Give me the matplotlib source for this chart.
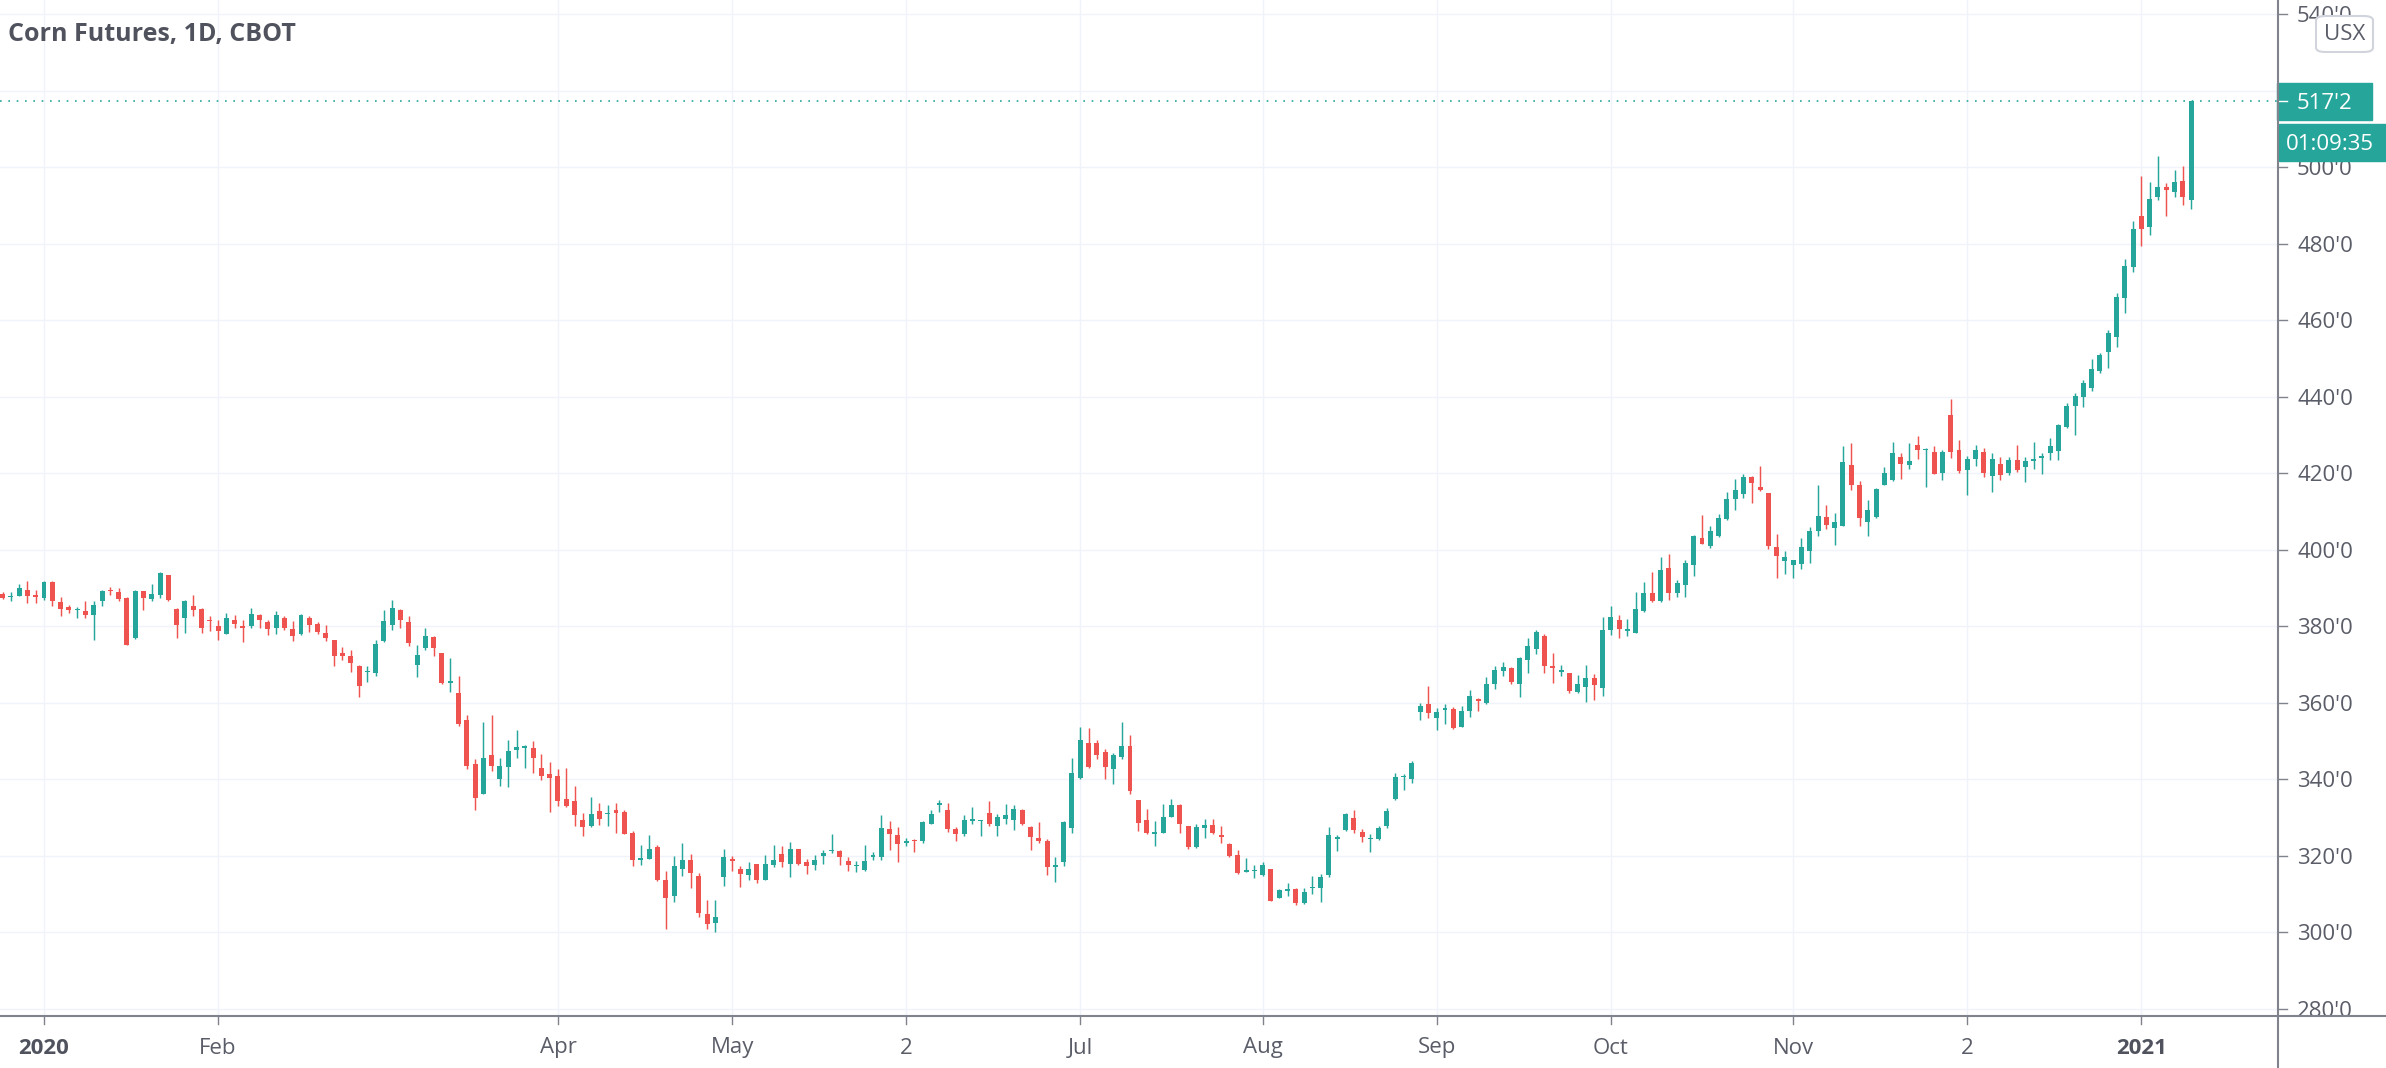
import matplotlib
matplotlib.use('Agg')
import matplotlib.pyplot as plt
from matplotlib.patches import Rectangle, FancyBboxPatch
from matplotlib.lines import Line2D
import numpy as np
import pandas as pd

plt.rcParams['font.family'] = ['Open Sans', 'DejaVu Sans']

W, H = 2386, 1068   # output size in pixels

title = 'Corn Futures, 1D, CBOT'
currency = 'USX'
last_price_text = "517'2"
countdown_text = '01:09:35'

# CBOT trading days shown (Dec 24 2019 .. Jan 12 2021)
holidays = ['2019-12-25', '2020-01-01', '2020-01-20', '2020-02-17', '2020-04-10',
            '2020-05-25', '2020-07-03', '2020-09-07', '2020-11-26', '2020-12-25',
            '2021-01-01']
dates = pd.bdate_range('2019-12-24', '2021-01-12', freq='C', holidays=holidays)

opens = [
    388.5, 387.7, 387.8, 389.4, 388.3, 387.4, 391.7, 386.3, 385.0, 384.2,
    383.9, 383.0, 386.5, 389.6, 388.9, 387.4, 377.0, 389.1, 387.1, 388.3,
    393.3, 384.5, 382.3, 385.4, 384.5, 381.7, 380.2, 378.1, 381.7, 380.2,
    380.0, 383.0, 381.0, 379.6, 382.2, 379.4, 378.1, 382.2, 380.6, 378.3,
    376.3, 373.0, 372.2, 369.7, 368.0, 367.8, 376.1, 380.4, 384.2, 381.0,
    370.0, 374.3, 377.2, 373.0, 365.2, 362.6, 355.5, 344.1, 336.3, 346.5,
    340.2, 343.3, 347.7, 348.2, 348.3, 343.0, 341.5, 341.0, 334.8, 334.3,
    329.5, 327.7, 331.7, 330.9, 332.1, 331.5, 326.0, 318.9, 319.3, 322.3,
    313.8, 309.5, 316.7, 319.0, 314.7, 304.7, 302.5, 314.5, 319.1, 316.7,
    315.0, 317.8, 313.7, 317.6, 320.6, 318.0, 321.7, 318.3, 317.6, 319.9,
    321.2, 321.4, 318.6, 317.3, 316.3, 319.7, 319.7, 327.1, 325.4, 323.5,
    324.1, 323.8, 328.4, 333.2, 332.1, 327.0, 325.7, 329.1, 329.0, 331.3,
    327.7, 329.7, 329.5, 332.0, 327.6, 324.6, 323.9, 317.1, 318.5, 327.4,
    340.4, 349.6, 349.6, 347.1, 342.8, 345.8, 348.7, 334.5, 329.3, 325.8,
    326.1, 330.3, 333.2, 327.8, 322.4, 327.4, 328.0, 325.2, 323.2, 320.2,
    315.9, 316.1, 315.0, 316.5, 309.1, 310.9, 311.3, 307.6, 311.5, 311.5,
    315.0, 324.5, 326.8, 330.0, 326.3, 324.3, 324.5, 327.8, 334.8, 340.6,
    340.0, 357.6, 359.8, 356.1, 358.1, 358.4, 353.7, 357.8, 360.9, 360.0,
    364.8, 368.3, 369.0, 365.0, 371.3, 374.2, 377.4, 369.7, 368.1, 367.7,
    362.9, 364.2, 366.6, 364.0, 379.0, 381.6, 378.8, 378.3, 384.0, 388.8,
    386.5, 395.3, 388.8, 390.9, 395.9, 403.1, 401.1, 403.7, 408.1, 413.3,
    414.6, 419.0, 416.3, 414.8, 400.7, 397.0, 395.9, 396.3, 399.8, 405.0,
    408.5, 405.7, 406.3, 422.2, 417.0, 407.2, 408.5, 417.0, 418.3, 424.3,
    422.1, 427.4, 426.1, 425.6, 420.0, 435.2, 426.2, 420.8, 423.6, 425.6,
    419.3, 422.4, 420.0, 423.5, 421.7, 423.3, 423.9, 425.2, 425.9, 432.0,
    437.6, 440.0, 442.2, 446.6, 451.8, 455.5, 465.7, 473.8, 487.3, 484.3,
    492.3, 494.9, 493.6, 496.3, 491.3,
]
highs = [
    389.0, 388.9, 391.0, 391.8, 389.6, 391.9, 391.8, 387.7, 385.6, 385.1,
    386.7, 386.7, 389.6, 390.4, 390.0, 387.6, 389.4, 389.3, 391.0, 394.2,
    393.4, 384.8, 387.0, 388.3, 384.8, 382.6, 381.7, 383.5, 383.0, 381.7,
    384.8, 383.3, 381.7, 383.9, 382.6, 381.3, 383.3, 382.6, 381.0, 380.4,
    376.4, 374.5, 373.9, 370.0, 369.7, 376.4, 384.3, 386.9, 384.5, 382.6,
    375.2, 379.6, 377.4, 373.1, 371.6, 367.1, 356.7, 345.4, 355.0, 356.9,
    345.7, 350.4, 352.8, 349.0, 350.0, 346.6, 344.6, 342.6, 342.9, 338.3,
    331.3, 335.3, 333.7, 333.3, 333.7, 332.0, 326.5, 322.8, 325.4, 322.9,
    316.1, 320.0, 323.4, 320.6, 315.6, 308.4, 308.6, 321.9, 320.0, 317.3,
    318.5, 318.0, 320.3, 322.9, 322.5, 323.7, 321.8, 319.1, 320.2, 321.6,
    325.8, 321.6, 319.7, 318.6, 322.8, 321.0, 330.6, 329.1, 327.6, 324.8,
    324.3, 329.2, 332.1, 334.6, 333.7, 327.6, 330.6, 332.9, 329.5, 334.3,
    331.0, 333.5, 333.4, 332.3, 327.8, 328.9, 324.3, 319.8, 329.2, 345.7,
    353.7, 353.5, 350.3, 348.0, 347.0, 355.0, 351.5, 334.6, 332.2, 329.0,
    333.5, 334.8, 333.5, 327.9, 328.3, 329.6, 329.7, 327.7, 323.5, 321.5,
    319.5, 317.6, 318.4, 316.7, 311.3, 312.8, 311.7, 311.7, 314.8, 315.2,
    327.6, 325.4, 331.1, 332.0, 327.1, 325.7, 327.8, 332.6, 341.6, 341.3,
    344.8, 360.0, 364.3, 358.7, 359.6, 358.8, 359.3, 363.3, 361.3, 366.8,
    369.6, 370.7, 369.4, 371.9, 377.0, 379.1, 378.1, 373.1, 370.0, 367.8,
    367.2, 369.8, 367.6, 382.4, 385.2, 382.9, 381.9, 388.9, 391.5, 394.2,
    398.1, 398.8, 392.2, 397.2, 403.9, 409.2, 406.3, 409.4, 415.0, 418.6,
    419.8, 419.4, 421.9, 414.9, 404.0, 399.6, 397.4, 403.1, 405.9, 416.9,
    411.7, 409.5, 427.1, 427.9, 418.1, 413.1, 416.2, 421.6, 428.1, 425.4,
    427.9, 429.7, 426.5, 427.1, 426.2, 439.4, 428.8, 424.5, 427.3, 426.5,
    425.2, 424.3, 424.3, 427.4, 424.3, 428.2, 425.4, 429.1, 432.9, 438.4,
    440.9, 444.4, 449.8, 451.5, 457.3, 467.0, 476.0, 485.8, 497.8, 496.0,
    502.8, 495.8, 499.3, 500.3, 517.25,
]
lows = [
    387.2, 386.6, 387.8, 386.2, 386.0, 386.9, 385.4, 382.6, 383.5, 382.1,
    382.1, 376.3, 385.4, 388.3, 386.7, 375.0, 376.7, 384.3, 386.7, 387.4,
    386.5, 376.9, 378.3, 382.6, 378.3, 378.8, 376.3, 378.0, 379.6, 375.8,
    379.6, 379.6, 377.8, 378.1, 379.1, 376.1, 377.8, 378.6, 378.1, 376.1,
    369.7, 371.3, 368.0, 361.6, 365.4, 367.1, 376.0, 379.1, 379.6, 374.8,
    366.7, 373.9, 372.2, 364.8, 362.9, 353.9, 342.8, 331.9, 336.2, 342.2,
    338.3, 337.9, 345.7, 343.0, 341.6, 339.8, 331.5, 333.0, 332.9, 327.8,
    325.3, 327.6, 328.0, 327.7, 326.0, 325.6, 317.4, 317.6, 319.2, 313.5,
    300.9, 308.0, 314.8, 311.7, 304.0, 301.0, 300.1, 312.1, 316.1, 312.0,
    313.7, 313.0, 313.6, 317.0, 317.0, 314.6, 317.6, 315.2, 316.4, 318.0,
    320.8, 317.6, 316.1, 315.7, 316.1, 319.0, 319.0, 321.6, 318.3, 322.6,
    321.1, 323.4, 328.3, 331.6, 326.3, 323.9, 325.2, 328.3, 325.1, 327.8,
    325.1, 328.3, 326.9, 328.1, 321.5, 323.5, 314.9, 313.3, 317.4, 326.1,
    340.2, 343.0, 345.4, 340.2, 338.9, 345.4, 336.1, 326.5, 325.7, 322.6,
    326.0, 330.2, 326.1, 321.7, 322.2, 324.8, 325.7, 323.3, 319.8, 315.3,
    315.7, 314.3, 314.8, 308.2, 309.0, 309.4, 307.2, 307.4, 310.1, 308.0,
    314.6, 321.3, 326.5, 326.1, 323.7, 320.9, 324.2, 327.4, 334.6, 337.2,
    339.0, 355.5, 356.1, 352.8, 354.5, 353.2, 353.6, 356.3, 357.8, 359.6,
    363.7, 367.1, 364.8, 361.5, 367.7, 372.8, 367.8, 365.2, 367.1, 362.6,
    362.6, 360.2, 360.7, 361.7, 377.7, 376.9, 377.4, 378.2, 383.8, 386.3,
    386.3, 387.0, 387.7, 387.7, 393.1, 401.4, 400.5, 403.3, 407.7, 410.4,
    413.5, 412.3, 415.3, 400.3, 392.6, 393.7, 392.6, 395.0, 396.5, 403.7,
    405.5, 401.3, 406.1, 415.7, 406.1, 403.7, 408.4, 416.8, 418.0, 418.4,
    421.2, 423.7, 416.3, 419.7, 418.2, 423.9, 420.0, 414.3, 421.9, 418.9,
    415.2, 418.2, 419.6, 420.4, 417.8, 421.0, 419.8, 423.4, 423.4, 431.8,
    430.1, 437.4, 441.4, 446.3, 447.6, 453.1, 461.8, 472.7, 479.3, 482.3,
    491.3, 487.1, 492.3, 490.2, 489.1,
]
closes = [
    387.4, 388.0, 390.0, 388.0, 387.7, 391.7, 386.5, 384.5, 384.2, 384.5,
    383.0, 385.6, 389.3, 389.1, 387.1, 375.2, 389.3, 387.4, 388.5, 393.9,
    387.0, 380.4, 386.7, 384.3, 379.6, 381.3, 378.7, 382.1, 380.7, 379.6,
    383.3, 381.7, 379.3, 383.0, 379.6, 377.4, 382.9, 380.4, 378.4, 377.0,
    372.3, 372.2, 370.4, 364.5, 368.3, 375.5, 381.3, 384.8, 381.7, 375.7,
    372.6, 377.4, 374.3, 365.2, 365.8, 354.6, 343.5, 335.2, 345.7, 343.5,
    343.5, 347.4, 348.4, 348.6, 345.7, 340.8, 340.4, 334.3, 333.0, 330.6,
    327.6, 331.0, 329.7, 331.3, 331.3, 325.8, 318.9, 319.5, 321.9, 313.7,
    308.9, 317.3, 318.9, 315.6, 305.1, 302.3, 304.1, 319.6, 318.6, 315.2,
    316.7, 313.7, 317.8, 319.0, 318.4, 321.9, 318.0, 317.3, 319.0, 320.8,
    321.6, 319.7, 317.6, 317.6, 318.7, 320.3, 327.3, 325.6, 323.0, 323.9,
    323.8, 328.9, 330.9, 333.7, 327.1, 325.8, 329.5, 329.7, 329.3, 328.4,
    330.2, 330.6, 332.2, 328.3, 325.0, 323.9, 317.2, 317.5, 328.9, 341.6,
    350.4, 343.3, 346.3, 343.2, 346.3, 348.7, 337.0, 328.7, 325.9, 326.1,
    330.3, 333.2, 328.4, 322.4, 327.6, 328.0, 326.1, 325.0, 320.0, 315.5,
    316.1, 316.3, 317.6, 308.3, 311.1, 311.3, 307.6, 310.6, 311.7, 314.6,
    325.4, 324.8, 330.9, 326.8, 325.0, 324.8, 327.2, 331.7, 340.7, 340.9,
    344.2, 359.1, 357.4, 357.6, 358.7, 353.5, 357.8, 361.7, 360.4, 364.8,
    368.7, 369.4, 365.5, 371.6, 374.8, 378.5, 369.6, 369.1, 368.5, 363.0,
    364.9, 366.6, 364.6, 379.0, 382.4, 379.4, 379.4, 384.6, 388.7, 386.5,
    394.8, 388.7, 391.3, 396.5, 403.7, 401.6, 405.0, 408.3, 413.3, 415.7,
    419.0, 417.5, 415.5, 400.9, 398.5, 398.1, 397.2, 400.7, 405.0, 408.7,
    406.6, 407.2, 422.9, 416.8, 408.3, 410.3, 415.9, 420.0, 425.3, 422.4,
    423.3, 426.2, 426.2, 419.8, 425.6, 425.6, 420.7, 423.6, 426.2, 420.1,
    423.6, 419.5, 423.5, 420.8, 423.2, 423.7, 424.6, 427.1, 432.6, 437.6,
    440.2, 443.5, 447.2, 450.9, 456.6, 466.0, 474.2, 483.8, 483.8, 491.6,
    494.8, 493.9, 496.0, 492.2, 517.25,
]

tick_dates = ['2020-01-02', '2020-02-03', '2020-04-01', '2020-05-01', '2020-06-02',
              '2020-07-01', '2020-08-03', '2020-09-01', '2020-10-01', '2020-11-02',
              '2020-12-02', '2021-01-04']
tick_labels = ['2020', 'Feb', 'Apr', 'May', '2', 'Jul', 'Aug', 'Sep', 'Oct', 'Nov', '2', '2021']
price_ticks = list(range(280, 541, 20))

up_color = '#26a69a'
down_color = '#ef5350'
grid_color = '#f0f3fa'
scale_color = '#80838c'
text_color = '#5a5d68'

assert len(dates) == len(opens) == len(highs) == len(lows) == len(closes)

o = np.array(opens)
h = np.array(highs)
l = np.array(lows)
c = np.array(closes)
x = np.arange(len(dates))
tick_x = [dates.get_loc(pd.Timestamp(d)) for d in tick_dates]

# layout in pixels
axis_x = 2278     # price scale line
axis_y = 1016     # time scale line
bar_px = 8.29     # pixels per bar
first_px = 44     # pixel of 2020-01-02
xlim = (tick_x[0] - first_px / bar_px, tick_x[0] + (axis_x - first_px) / bar_px)
ylim = (278.17, 543.66)

fig = plt.figure(figsize=(W / 100, H / 100), dpi=100)
fig.patch.set_facecolor('white')

ax = fig.add_axes([0, (H - axis_y) / H, axis_x / W, axis_y / H])
ax.set_xlim(*xlim)
ax.set_ylim(*ylim)
ax.axis('off')

# grid
for p in price_ticks:
    ax.axhline(p, color=grid_color, lw=1.0, zorder=0)
for t in tick_x:
    ax.axvline(t, color=grid_color, lw=1.0, zorder=0)

# candles
up = c >= o
colors = np.where(up, up_color, down_color)
body_low = np.minimum(o, c)
body_h = np.maximum(np.abs(c - o), 0.35)
ax.vlines(x, l, h, colors=colors, lw=1.05, zorder=2)
ax.bar(x, body_h, bottom=body_low, width=0.6, color=colors, zorder=3, linewidth=0)

# last price line
ax.axhline(c[-1], color=up_color, lw=1.2, ls=(0, (1, 4)), zorder=1)

# price scale
pax = fig.add_axes([axis_x / W, (H - axis_y) / H, (W - axis_x) / W, axis_y / H])
pax.set_xlim(0, 1)
pax.set_ylim(*ylim)
pax.axis('off')
tick_len = 9 / (W - axis_x)
label_x = 19 / (W - axis_x)
for p in price_ticks:
    pax.plot([0, tick_len], [p, p], color=scale_color, lw=1.0, clip_on=True)
    pax.text(label_x, p, f"{p}'0", color=text_color, fontsize=16, ha='left',
             va='center_baseline', clip_on=True)

px_to_price = (ylim[1] - ylim[0]) / axis_y
box_h = 37 * px_to_price
pax.add_patch(Rectangle((-0.01, c[-1] - box_h / 2), 0.88, box_h, color=up_color,
                        clip_on=False, zorder=5))
pax.plot([0, tick_len], [c[-1], c[-1]], color='white', lw=1.0, zorder=6)
pax.text(label_x, c[-1], last_price_text, color='white', fontsize=16, ha='left',
         va='center_baseline', zorder=6)
cd_top = c[-1] - box_h / 2 - 4 * px_to_price
pax.add_patch(Rectangle((0.01, cd_top - box_h), 0.99, box_h, color=up_color,
                        clip_on=False, zorder=5))
pax.text(8 / (W - axis_x), cd_top - box_h / 2, countdown_text, color='white', fontsize=16,
         ha='left', va='center_baseline', zorder=6)

# currency box
fig.add_artist(FancyBboxPatch((2316 / W, 1 - 52 / H), 57 / W, 36 / H,
                              boxstyle='round,pad=0,rounding_size=0.004',
                              facecolor='white', edgecolor='#d1d4dc', lw=1.5, zorder=5))
fig.text(2345 / W, 1 - 34 / H, currency, color=text_color, fontsize=16,
         ha='center', va='center', zorder=6)

# time scale
tax = fig.add_axes([0, 0, axis_x / W, (H - axis_y) / H])
tax.set_xlim(*xlim)
tax.set_ylim(H - axis_y, 0)
tax.axis('off')
for t, lab in zip(tick_x, tick_labels):
    tax.plot([t, t], [1, 8], color=scale_color, lw=1.0)
    bold = lab in ('2020', '2021')
    tax.text(t, 32, lab, color='#50535e' if bold else text_color, fontsize=16,
             fontweight='bold' if bold else 'normal', ha='center', va='center')

# scale lines
fig.add_artist(Line2D([0, 1], [1 - axis_y / H] * 2, color=scale_color, lw=1.5, zorder=4))
fig.add_artist(Line2D([axis_x / W] * 2, [0, 1], color=scale_color, lw=1.5, zorder=4))

# title
fig.text(8 / W, 1 - 34 / H, title, color='#50535e', fontsize=18, fontweight='bold',
         ha='left', va='center')

fig.savefig('out.png', dpi=100, facecolor='white')
